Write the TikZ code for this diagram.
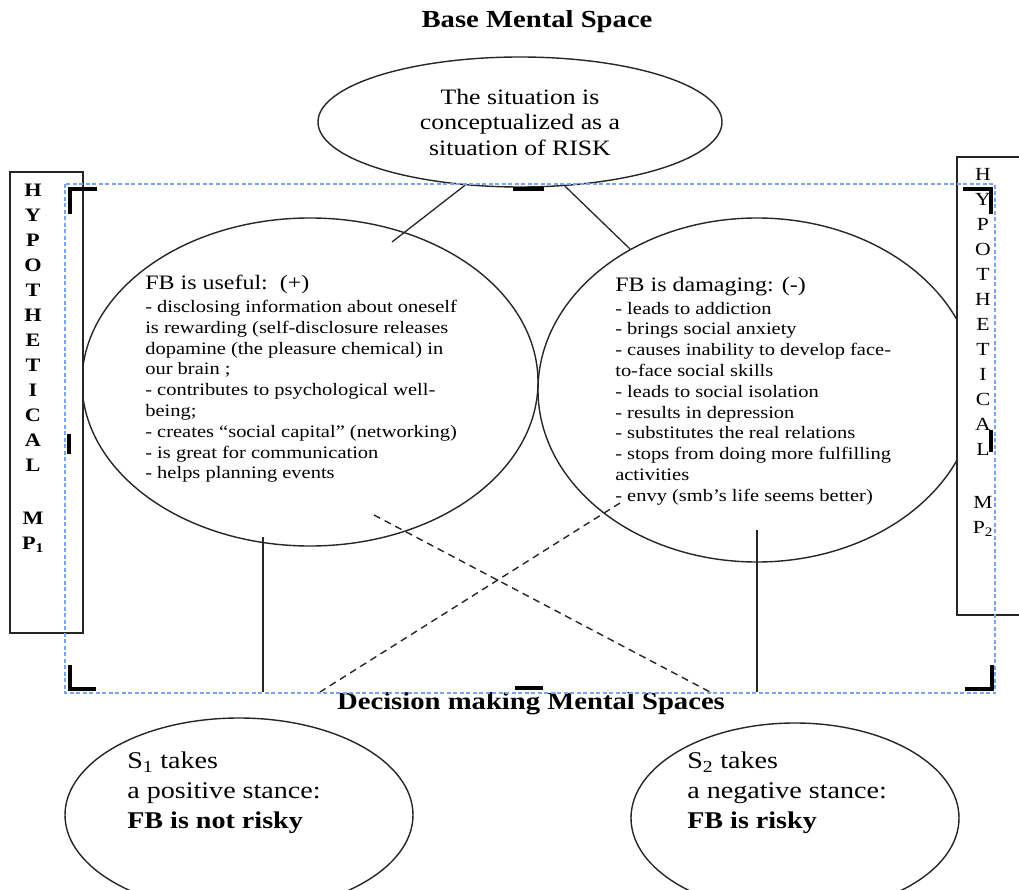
\documentclass[tikz,border=0pt]{standalone}
\usepackage{fontspec}
\setmainfont{Liberation Serif}[FakeStretch=1.17]
\usetikzlibrary{shapes.geometric}
\definecolor{selblue}{RGB}{120,165,235}

\begin{document}
\begin{tikzpicture}[x=1pt, y=-1pt, semithick,
    space/.style={ellipse,draw=black!85,line width=1.4pt,inner sep=0pt},
    spacetext/.style={anchor=west,align=left,inner sep=0pt,font=\fontsize{17.5}{20.8}\selectfont},
    stancetext/.style={anchor=west,align=left,inner sep=0pt,font=\fontsize{24}{30}\selectfont},
    spacetitle/.style={font=\bfseries\fontsize{24.5}{28}\selectfont},
    hypbox/.style={draw=black!85,line width=1.4pt,fill=white},
    hypletters/.style={align=center,inner sep=0pt,anchor=north},
    link/.style={draw=black!85,line width=1.3pt},
    cross/.style={draw=black!85,line width=1.4pt,dash pattern=on 7pt off 5pt},
    handle/.style={line width=4.5pt},
    selframe/.style={draw=selblue,line width=1.2pt,dash pattern=on 4pt off 2.5pt}]
  \useasboundingbox (0,0) rectangle (1019,890);
  \node[spacetitle] (basetitle) at (537,22) {Base Mental Space};
  \node[space,minimum width=404,minimum height=130,align=center,font=\fontsize{22}{25.5}\selectfont] (risk) at (520,122) {The situation is\\conceptualized as a\\situation of RISK};
  \node[space,minimum width=456,minimum height=328] (useful) at (310,382) {};
  \node[space,minimum width=438,minimum height=344] (damaging) at (757,390) {};
  \node[spacetext] (usefultext) at (145,379) {{\fontsize{20.5}{23}\selectfont FB is useful:\ \ (+)}\\[2pt]
    - disclosing information about oneself\\
    is rewarding (self-disclosure releases\\
    dopamine (the pleasure chemical) in\\
    our brain ;\\
    - contributes to psychological well-\\
    being;\\
    - creates “social capital” (networking)\\
    - is great for communication\\
    - helps planning events};
  \node[spacetext] (damagingtext) at (615,391) {{\fontsize{20.5}{23}\selectfont FB is damaging: (-)}\\[2pt]
    - leads to addiction\\
    - brings social anxiety\\
    - causes inability to develop face-\\
    to-face social skills\\
    - leads to social isolation\\
    - results in depression\\
    - substitutes the real relations\\
    - stops from doing more fulfilling\\
    activities\\
    - envy (smb’s life seems better)};
  \draw[hypbox] (10,172) rectangle (83,633);
  \node[hypletters,font=\bfseries\fontsize{19}{25}\selectfont] (hypleft) at (33,184)
    {H\\Y\\P\\O\\T\\H\\E\\T\\I\\C\\A\\L\\[28pt]M\\P\textsubscript{1}};
  \draw[hypbox] (957,157) rectangle (1030,615);
  \node[hypletters,font=\fontsize{18.5}{25}\selectfont] (hypright) at (983,168)
    {H\\Y\\P\\O\\T\\H\\E\\T\\I\\C\\A\\L\\[28pt]M\\P\textsubscript{2}};
  \coordinate (uselink) at (392,242);
  \coordinate (usestem) at (263,537);
  \coordinate (usefoot) at (263,692);
  \coordinate (damstem) at (757,530);
  \coordinate (damfoot) at (757,692);
  \coordinate (crossa) at (374,515);
  \coordinate (crossb) at (710,692);
  \coordinate (crossc) at (620,503);
  \coordinate (crossd) at (320,692);
  \draw[link] (risk.229) -- (uselink);
  \draw[link] (risk.305) -- (damaging.132);
  \draw[link] (usestem) -- (usefoot);
  \draw[link] (damstem) -- (damfoot);
  \draw[cross] (crossa) -- (crossb);
  \draw[cross] (crossc) -- (crossd);
  \node[spacetitle] (decisiontitle) at (531,704) {Decision making Mental Spaces};
  \node[space,minimum width=348,minimum height=194] (positive) at (239,815) {};
  \node[space,minimum width=328,minimum height=190] (negative) at (795,818) {};
  \node[stancetext] (positivetext) at (127,793) {S\textsubscript{1} takes\\a positive stance:\\\textbf{FB is not risky}};
  \node[stancetext] (negativetext) at (687,793) {S\textsubscript{2} takes\\a negative stance:\\\textbf{FB is risky}};
  \draw[selframe] (65,184) rectangle (995,693);
  \draw[handle] (70,214) -- (70,189) -- (97,189);
  \draw[handle] (513,189) -- (544,189);
  \draw[handle] (963,189) -- (991,189) -- (991,214);
  \draw[handle] (69,434) -- (69,454);
  \draw[handle] (991,430) -- (991,452);
  \draw[handle] (70,665) -- (70,689) -- (96,689);
  \draw[handle] (515,688) -- (543,688);
  \draw[handle] (965,689) -- (992,689) -- (992,665);
\end{tikzpicture}
\end{document}
